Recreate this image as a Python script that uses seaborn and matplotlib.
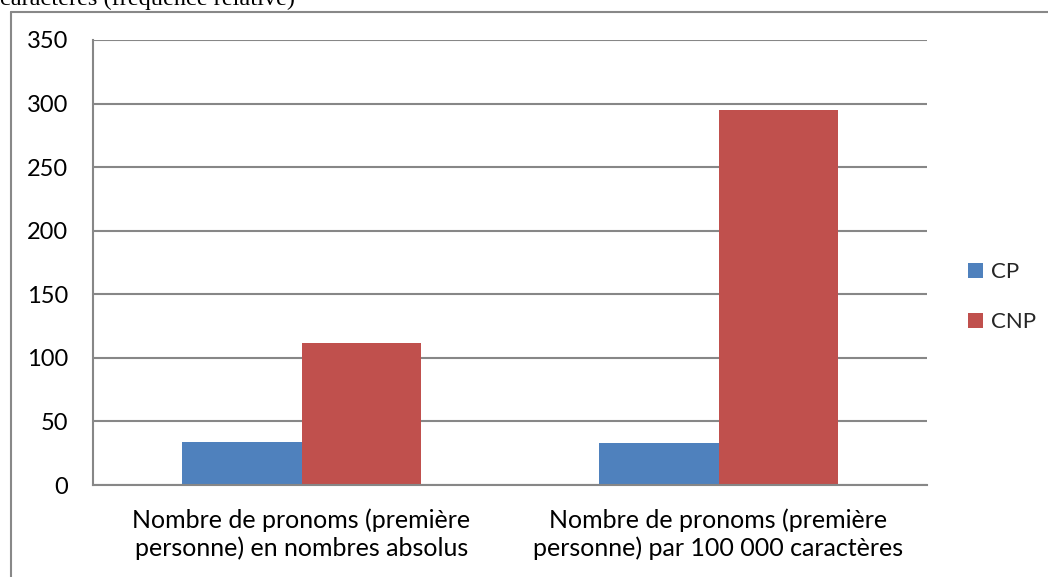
import matplotlib
matplotlib.use("Agg")
import matplotlib.pyplot as plt
from matplotlib.lines import Line2D
import pandas as pd
import seaborn as sns

# Data
categories = [
    "Nombre de pronoms (première\npersonne) en nombres absolus",
    "Nombre de pronoms (première\npersonne) par 100 000 caractères",
]
series_names = ["CP", "CNP"]
cp_values = [34, 33]
cnp_values = [112, 295]
y_ticks = [0, 50, 100, 150, 200, 250, 300, 350]
caption = "caractères (fréquence relative)"

colors = {"CP": "#4F81BD", "CNP": "#C0504D"}
grey = "#878787"

sns.set_style("white")
plt.rcParams["font.family"] = ["Lato", "DejaVu Sans"]

df = pd.DataFrame({
    "categorie": categories * 2,
    "serie": [series_names[0]] * len(categories) + [series_names[1]] * len(categories),
    "valeur": cp_values + cnp_values,
})

W, H = 1048, 577
fig = plt.figure(figsize=(W / 100, H / 100), dpi=100)
ax = fig.add_axes([93 / W, 1 - 485 / H, 834 / W, 445 / H])

sns.barplot(data=df, x="categorie", y="valeur", hue="serie", hue_order=series_names,
            palette=colors, width=0.575, saturation=1, edgecolor="none", ax=ax)

handles, labels = ax.get_legend_handles_labels()
ax.get_legend().remove()

ax.set_xlim(-0.5, len(categories) - 0.5)
ax.set_ylim(0, 350)
ax.set_yticks(y_ticks)
ax.set_xlabel("")
ax.set_ylabel("")

ax.set_axisbelow(True)
ax.yaxis.grid(True, color=grey, linewidth=1.5)
ax.xaxis.grid(False)

for side in ["top", "right"]:
    ax.spines[side].set_visible(False)
for side in ["left", "bottom"]:
    ax.spines[side].set_color(grey)
    ax.spines[side].set_linewidth(1.5)

ax.tick_params(axis="y", which="major", length=5.8, width=1.5, color=grey,
               direction="out", pad=12, labelsize=17, labelcolor="black")
ax.tick_params(axis="x", which="major", length=0, pad=17, labelsize=18, labelcolor="black")
ax.set_xticks([i - 0.5 for i in range(len(categories) + 1)], minor=True)
ax.tick_params(axis="x", which="minor", length=5.8, width=1.5, color=grey, direction="out")
for lbl in ax.get_xticklabels():
    lbl.set_linespacing(1.22)

fig.legend(handles, labels, loc="center left", bbox_to_anchor=(968 / W, 1 - 297 / H),
           frameon=False, fontsize=16, handlelength=0.68, handleheight=0.68,
           handletextpad=0.35, labelspacing=1.35, borderaxespad=0, borderpad=0)

# Frame around the chart area
bx, by = 11 / W, 1 - 12 / H
fig.add_artist(Line2D([bx, bx], [0, by], color="#888888", linewidth=1.5))
fig.add_artist(Line2D([bx, 1], [by, by], color="#888888", linewidth=1.5))

# Caption line from the surrounding text, partly cut off at the top
fig.text(0.5 / W, 1 - 5 / H, caption, ha="left", va="baseline",
         fontsize=17.5, family=["Liberation Serif", "DejaVu Serif"], color="black")

fig.savefig("out.png", dpi=100)
